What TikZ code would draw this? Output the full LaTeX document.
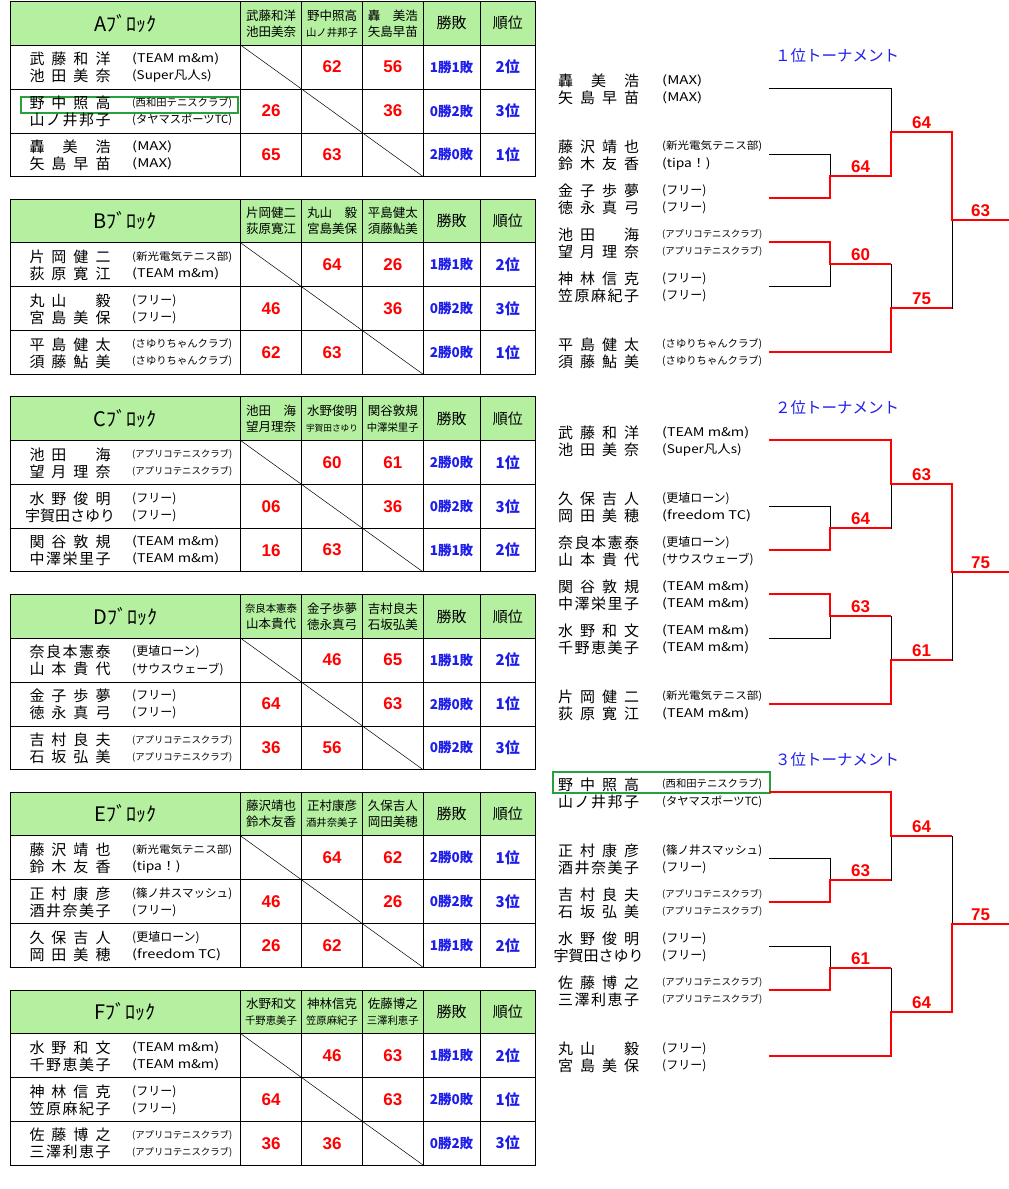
\documentclass[tikz,border=0pt]{standalone}
\usepackage{fontspec}
\usepackage{graphicx}
\setmainfont{Noto Sans CJK JP}
\newfontfamily\arl{Liberation Sans}

\definecolor{hdgreen}{RGB}{180,240,160}
\definecolor{scred}{RGB}{255,0,0}
\definecolor{blu}{RGB}{30,30,235}
\definecolor{hlgreen}{RGB}{40,160,60}

\makeatletter
\def\spr@loop#1#2\@nil{#1\ifx\relax#2\relax\else\hfill\spr@loop#2\@nil\fi}
\newcommand\nm[1]{\setbox0\hbox{#1}\ifdim\wd0>81pt\makebox[81pt][c]{#1}\else\makebox[81pt][s]{\spr@loop#1\@nil}\fi}
\makeatother
\newcommand\kuu{\hphantom{口}}
\newcommand\aff[2][1]{\setbox0\hbox{\scalebox{#1}[1]{#2}}\ifdim\wd0>100pt\resizebox{100pt}{!}{\scalebox{#1}[1]{#2}}\else\box0\fi}
\newcommand\hn[1]{\setbox0\hbox{#1}\ifdim\wd0>52pt\resizebox{52pt}{!}{#1}\else#1\fi}

\tikzset{
  rule/.style={line width=0.9pt, black},
  diag/.style={line width=0.5pt, black},
  hdfill/.style={fill=hdgreen},
  blk/.style={font=\fontsize{20}{20}\selectfont, inner sep=0pt},
  hdnm/.style={font=\fontsize{12.5}{16}\selectfont, align=center, inner sep=0pt},
  hdlb/.style={font=\fontsize{15}{15}\selectfont, inner sep=0pt},
  pname/.style={anchor=west, font=\fontsize{15}{15}\selectfont, inner sep=0pt},
  paff/.style={anchor=west, font=\fontsize{12}{12}\selectfont, inner sep=0pt},
  score/.style={font={\arl\bfseries\fontsize{17}{17}\selectfont}, text=scred, inner sep=0pt},
  wl/.style={font={\bfseries\fontsize{13.5}{13.5}\selectfont}, text=blu, inner sep=0pt},
  rk/.style={font={\bfseries\fontsize{15}{15}\selectfont}, text=blu, inner sep=0pt},
  ttl/.style={font=\fontsize{15.5}{15.5}\selectfont, text=blu, inner sep=0pt},
  hl/.style={draw=hlgreen, line width=2.2pt},
  lose/.style={line width=0.9pt, black},
  win/.style={line width=2.4pt, scred, line join=miter},
}

\begin{document}
\begin{tikzpicture}[x=1pt,y=-1pt]
    \fill[white] (0,0) rectangle (1009,1189);
    \useasboundingbox (0,0) rectangle (1009,1189);

    % A block
    \begin{scope}[shift={(0,1.5)}]
        \fill[hdfill] (10,0) rectangle (535.5,43.5);
        \draw[rule] (10,0) rectangle (535.5,175);
        \draw[rule] (10,43.5) -- (535.5,43.5); \draw[rule] (10,87.5) -- (535.5,87.5); \draw[rule] (10,131.5) -- (535.5,131.5);
        \draw[rule] (240.5,0) -- (240.5,175); \draw[rule] (301.5,0) -- (301.5,175); \draw[rule] (362.5,0) -- (362.5,175);
        \draw[rule] (423,0) -- (423,175); \draw[rule] (480,0) -- (480,175);
        \draw[diag] (240.5,43.5) -- (423,175);

        \node[blk] (Ablk) at (125.25,21.75) {Aﾌﾞﾛｯｸ};
        \node[hdnm] (Ah1) at (271,21.75) {\hn{武藤和洋}\\\hn{池田美奈}};
        \node[hdnm] (Ah2) at (332,21.75) {\hn{野中照高}\\\hn{山ノ井邦子}};
        \node[hdnm] (Ah3) at (392.75,21.75) {\hn{轟\kuu 美浩}\\\hn{矢島早苗}};
        \node[hdlb] (Awl) at (451.5,21.75) {勝敗};
        \node[hdlb] (Ark) at (507.75,21.75) {順位};

        \node[pname] (A1n) at (29.3,57.5) {\nm{武藤和洋}}; \node[paff] (A1f) at (132,57.5) {\aff[1.2]{(TEAM m\&m)}};
        \node[pname] (A1m) at (29.3,74.5) {\nm{池田美奈}}; \node[paff] (A1g) at (132,74.5) {\aff[1.12]{(Super凡人s)}};
        \node[score] (A1b) at (332,65.5) {62}; \node[score] (A1c) at (392.75,65.5) {56};
        \node[wl] (A1w) at (451.5,65.5) {1勝1敗}; \node[rk] (A1r) at (507.75,65.5) {2位};

        \draw[hl] (21.3,95.2) rectangle (237.6,111.8);
        \node[pname] (A2n) at (29.3,101.5) {\nm{野中照高}}; \node[paff] (A2f) at (132,101.5) {\aff{(西和田テニスクラブ)}};
        \node[pname] (A2m) at (29.3,118.5) {\nm{山ノ井邦子}}; \node[paff] (A2g) at (132,118.5) {\aff{(タヤマスポーツTC)}};
        \node[score] (A2a) at (271,109.5) {26}; \node[score] (A2c) at (392.75,109.5) {36};
        \node[wl] (A2w) at (451.5,109.5) {0勝2敗}; \node[rk] (A2r) at (507.75,109.5) {3位};

        \node[pname] (A3n) at (29.3,145.3) {\nm{轟美浩}}; \node[paff] (A3f) at (132,145.3) {\aff[1.25]{(MAX)}};
        \node[pname] (A3m) at (29.3,162.3) {\nm{矢島早苗}}; \node[paff] (A3g) at (132,162.3) {\aff[1.25]{(MAX)}};
        \node[score] (A3a) at (271,153.25) {65}; \node[score] (A3b) at (332,153.25) {63};
        \node[wl] (A3w) at (451.5,153.25) {2勝0敗}; \node[rk] (A3r) at (507.75,153.25) {1位};
    \end{scope}

    % B block
    \begin{scope}[shift={(0,199.2)}]
        \fill[hdfill] (10,0) rectangle (535.5,43.5);
        \draw[rule] (10,0) rectangle (535.5,175);
        \draw[rule] (10,43.5) -- (535.5,43.5); \draw[rule] (10,87.5) -- (535.5,87.5); \draw[rule] (10,131.5) -- (535.5,131.5);
        \draw[rule] (240.5,0) -- (240.5,175); \draw[rule] (301.5,0) -- (301.5,175); \draw[rule] (362.5,0) -- (362.5,175);
        \draw[rule] (423,0) -- (423,175); \draw[rule] (480,0) -- (480,175);
        \draw[diag] (240.5,43.5) -- (423,175);

        \node[blk] (Bblk) at (125.25,21.75) {Bﾌﾞﾛｯｸ};
        \node[hdnm] (Bh1) at (271,21.75) {\hn{片岡健二}\\\hn{荻原寛江}};
        \node[hdnm] (Bh2) at (332,21.75) {\hn{丸山\kuu 毅}\\\hn{宮島美保}};
        \node[hdnm] (Bh3) at (392.75,21.75) {\hn{平島健太}\\\hn{須藤鮎美}};
        \node[hdlb] (Bwl) at (451.5,21.75) {勝敗};
        \node[hdlb] (Brk) at (507.75,21.75) {順位};

        \node[pname] (B1n) at (29.3,57.5) {\nm{片岡健二}}; \node[paff] (B1f) at (132,57.5) {\aff[1.1]{(新光電気テニス部)}};
        \node[pname] (B1m) at (29.3,74.5) {\nm{荻原寛江}}; \node[paff] (B1g) at (132,74.5) {\aff[1.2]{(TEAM m\&m)}};
        \node[score] (B1b) at (332,65.5) {64}; \node[score] (B1c) at (392.75,65.5) {26};
        \node[wl] (B1w) at (451.5,65.5) {1勝1敗}; \node[rk] (B1r) at (507.75,65.5) {2位};

        \node[pname] (B2n) at (29.3,101.5) {\nm{丸山\kuu 毅}}; \node[paff] (B2f) at (132,101.5) {\aff{(フリー)}};
        \node[pname] (B2m) at (29.3,118.5) {\nm{宮島美保}}; \node[paff] (B2g) at (132,118.5) {\aff{(フリー)}};
        \node[score] (B2a) at (271,109.5) {46}; \node[score] (B2c) at (392.75,109.5) {36};
        \node[wl] (B2w) at (451.5,109.5) {0勝2敗}; \node[rk] (B2r) at (507.75,109.5) {3位};

        \node[pname] (B3n) at (29.3,145.3) {\nm{平島健太}}; \node[paff] (B3f) at (132,145.3) {\aff{(さゆりちゃんクラブ)}};
        \node[pname] (B3m) at (29.3,162.3) {\nm{須藤鮎美}}; \node[paff] (B3g) at (132,162.3) {\aff{(さゆりちゃんクラブ)}};
        \node[score] (B3a) at (271,153.25) {62}; \node[score] (B3b) at (332,153.25) {63};
        \node[wl] (B3w) at (451.5,153.25) {2勝0敗}; \node[rk] (B3r) at (507.75,153.25) {1位};
    \end{scope}

    % C block
    \begin{scope}[shift={(0,396.9)}]
        \fill[hdfill] (10,0) rectangle (535.5,43.5);
        \draw[rule] (10,0) rectangle (535.5,175);
        \draw[rule] (10,43.5) -- (535.5,43.5); \draw[rule] (10,87.5) -- (535.5,87.5); \draw[rule] (10,131.5) -- (535.5,131.5);
        \draw[rule] (240.5,0) -- (240.5,175); \draw[rule] (301.5,0) -- (301.5,175); \draw[rule] (362.5,0) -- (362.5,175);
        \draw[rule] (423,0) -- (423,175); \draw[rule] (480,0) -- (480,175);
        \draw[diag] (240.5,43.5) -- (423,175);

        \node[blk] (Cblk) at (125.25,21.75) {Cﾌﾞﾛｯｸ};
        \node[hdnm] (Ch1) at (271,21.75) {\hn{池田\kuu 海}\\\hn{望月理奈}};
        \node[hdnm] (Ch2) at (332,21.75) {\hn{水野俊明}\\\hn{宇賀田さゆり}};
        \node[hdnm] (Ch3) at (392.75,21.75) {\hn{関谷敦規}\\\hn{中澤栄里子}};
        \node[hdlb] (Cwl) at (451.5,21.75) {勝敗};
        \node[hdlb] (Crk) at (507.75,21.75) {順位};

        \node[pname] (C1n) at (29.3,57.5) {\nm{池田\kuu 海}}; \node[paff] (C1f) at (132,57.5) {\aff{(アプリコテニスクラブ)}};
        \node[pname] (C1m) at (29.3,74.5) {\nm{望月理奈}}; \node[paff] (C1g) at (132,74.5) {\aff{(アプリコテニスクラブ)}};
        \node[score] (C1b) at (332,65.5) {60}; \node[score] (C1c) at (392.75,65.5) {61};
        \node[wl] (C1w) at (451.5,65.5) {2勝0敗}; \node[rk] (C1r) at (507.75,65.5) {1位};

        \node[pname] (C2n) at (29.3,101.5) {\nm{水野俊明}}; \node[paff] (C2f) at (132,101.5) {\aff{(フリー)}};
        \node[pname] (C2m) at (29.3,118.5) {\nm{宇賀田さゆり}}; \node[paff] (C2g) at (132,118.5) {\aff{(フリー)}};
        \node[score] (C2a) at (271,109.5) {06}; \node[score] (C2c) at (392.75,109.5) {36};
        \node[wl] (C2w) at (451.5,109.5) {0勝2敗}; \node[rk] (C2r) at (507.75,109.5) {3位};

        \node[pname] (C3n) at (29.3,145.3) {\nm{関谷敦規}}; \node[paff] (C3f) at (132,145.3) {\aff[1.2]{(TEAM m\&m)}};
        \node[pname] (C3m) at (29.3,162.3) {\nm{中澤栄里子}}; \node[paff] (C3g) at (132,162.3) {\aff[1.2]{(TEAM m\&m)}};
        \node[score] (C3a) at (271,153.25) {16}; \node[score] (C3b) at (332,153.25) {63};
        \node[wl] (C3w) at (451.5,153.25) {1勝1敗}; \node[rk] (C3r) at (507.75,153.25) {2位};
    \end{scope}

    % D block
    \begin{scope}[shift={(0,594.6)}]
        \fill[hdfill] (10,0) rectangle (535.5,43.5);
        \draw[rule] (10,0) rectangle (535.5,175);
        \draw[rule] (10,43.5) -- (535.5,43.5); \draw[rule] (10,87.5) -- (535.5,87.5); \draw[rule] (10,131.5) -- (535.5,131.5);
        \draw[rule] (240.5,0) -- (240.5,175); \draw[rule] (301.5,0) -- (301.5,175); \draw[rule] (362.5,0) -- (362.5,175);
        \draw[rule] (423,0) -- (423,175); \draw[rule] (480,0) -- (480,175);
        \draw[diag] (240.5,43.5) -- (423,175);

        \node[blk] (Dblk) at (125.25,21.75) {Dﾌﾞﾛｯｸ};
        \node[hdnm] (Dh1) at (271,21.75) {\hn{奈良本憲泰}\\\hn{山本貴代}};
        \node[hdnm] (Dh2) at (332,21.75) {\hn{金子歩夢}\\\hn{徳永真弓}};
        \node[hdnm] (Dh3) at (392.75,21.75) {\hn{吉村良夫}\\\hn{石坂弘美}};
        \node[hdlb] (Dwl) at (451.5,21.75) {勝敗};
        \node[hdlb] (Drk) at (507.75,21.75) {順位};

        \node[pname] (D1n) at (29.3,57.5) {\nm{奈良本憲泰}}; \node[paff] (D1f) at (132,57.5) {\aff{(更埴ローン)}};
        \node[pname] (D1m) at (29.3,74.5) {\nm{山本貴代}}; \node[paff] (D1g) at (132,74.5) {\aff{(サウスウェーブ)}};
        \node[score] (D1b) at (332,65.5) {46}; \node[score] (D1c) at (392.75,65.5) {65};
        \node[wl] (D1w) at (451.5,65.5) {1勝1敗}; \node[rk] (D1r) at (507.75,65.5) {2位};

        \node[pname] (D2n) at (29.3,101.5) {\nm{金子歩夢}}; \node[paff] (D2f) at (132,101.5) {\aff{(フリー)}};
        \node[pname] (D2m) at (29.3,118.5) {\nm{徳永真弓}}; \node[paff] (D2g) at (132,118.5) {\aff{(フリー)}};
        \node[score] (D2a) at (271,109.5) {64}; \node[score] (D2c) at (392.75,109.5) {63};
        \node[wl] (D2w) at (451.5,109.5) {2勝0敗}; \node[rk] (D2r) at (507.75,109.5) {1位};

        \node[pname] (D3n) at (29.3,145.3) {\nm{吉村良夫}}; \node[paff] (D3f) at (132,145.3) {\aff{(アプリコテニスクラブ)}};
        \node[pname] (D3m) at (29.3,162.3) {\nm{石坂弘美}}; \node[paff] (D3g) at (132,162.3) {\aff{(アプリコテニスクラブ)}};
        \node[score] (D3a) at (271,153.25) {36}; \node[score] (D3b) at (332,153.25) {56};
        \node[wl] (D3w) at (451.5,153.25) {0勝2敗}; \node[rk] (D3r) at (507.75,153.25) {3位};
    \end{scope}

    % E block
    \begin{scope}[shift={(0,792.3)}]
        \fill[hdfill] (10,0) rectangle (535.5,43.5);
        \draw[rule] (10,0) rectangle (535.5,175);
        \draw[rule] (10,43.5) -- (535.5,43.5); \draw[rule] (10,87.5) -- (535.5,87.5); \draw[rule] (10,131.5) -- (535.5,131.5);
        \draw[rule] (240.5,0) -- (240.5,175); \draw[rule] (301.5,0) -- (301.5,175); \draw[rule] (362.5,0) -- (362.5,175);
        \draw[rule] (423,0) -- (423,175); \draw[rule] (480,0) -- (480,175);
        \draw[diag] (240.5,43.5) -- (423,175);

        \node[blk] (Eblk) at (125.25,21.75) {Eﾌﾞﾛｯｸ};
        \node[hdnm] (Eh1) at (271,21.75) {\hn{藤沢靖也}\\\hn{鈴木友香}};
        \node[hdnm] (Eh2) at (332,21.75) {\hn{正村康彦}\\\hn{酒井奈美子}};
        \node[hdnm] (Eh3) at (392.75,21.75) {\hn{久保吉人}\\\hn{岡田美穂}};
        \node[hdlb] (Ewl) at (451.5,21.75) {勝敗};
        \node[hdlb] (Erk) at (507.75,21.75) {順位};

        \node[pname] (E1n) at (29.3,57.5) {\nm{藤沢靖也}}; \node[paff] (E1f) at (132,57.5) {\aff[1.1]{(新光電気テニス部)}};
        \node[pname] (E1m) at (29.3,74.5) {\nm{鈴木友香}}; \node[paff] (E1g) at (132,74.5) {\aff[1.15]{(tipa！)}};
        \node[score] (E1b) at (332,65.5) {64}; \node[score] (E1c) at (392.75,65.5) {62};
        \node[wl] (E1w) at (451.5,65.5) {2勝0敗}; \node[rk] (E1r) at (507.75,65.5) {1位};

        \node[pname] (E2n) at (29.3,101.5) {\nm{正村康彦}}; \node[paff] (E2f) at (132,101.5) {\aff{(篠ノ井スマッシュ)}};
        \node[pname] (E2m) at (29.3,118.5) {\nm{酒井奈美子}}; \node[paff] (E2g) at (132,118.5) {\aff{(フリー)}};
        \node[score] (E2a) at (271,109.5) {46}; \node[score] (E2c) at (392.75,109.5) {26};
        \node[wl] (E2w) at (451.5,109.5) {0勝2敗}; \node[rk] (E2r) at (507.75,109.5) {3位};

        \node[pname] (E3n) at (29.3,145.3) {\nm{久保吉人}}; \node[paff] (E3f) at (132,145.3) {\aff{(更埴ローン)}};
        \node[pname] (E3m) at (29.3,162.3) {\nm{岡田美穂}}; \node[paff] (E3g) at (132,162.3) {\aff[1.22]{(freedom TC)}};
        \node[score] (E3a) at (271,153.25) {26}; \node[score] (E3b) at (332,153.25) {62};
        \node[wl] (E3w) at (451.5,153.25) {1勝1敗}; \node[rk] (E3r) at (507.75,153.25) {2位};
    \end{scope}

    % F block
    \begin{scope}[shift={(0,990)}]
        \fill[hdfill] (10,0) rectangle (535.5,43.5);
        \draw[rule] (10,0) rectangle (535.5,175);
        \draw[rule] (10,43.5) -- (535.5,43.5); \draw[rule] (10,87.5) -- (535.5,87.5); \draw[rule] (10,131.5) -- (535.5,131.5);
        \draw[rule] (240.5,0) -- (240.5,175); \draw[rule] (301.5,0) -- (301.5,175); \draw[rule] (362.5,0) -- (362.5,175);
        \draw[rule] (423,0) -- (423,175); \draw[rule] (480,0) -- (480,175);
        \draw[diag] (240.5,43.5) -- (423,175);

        \node[blk] (Fblk) at (125.25,21.75) {Fﾌﾞﾛｯｸ};
        \node[hdnm] (Fh1) at (271,21.75) {\hn{水野和文}\\\hn{千野恵美子}};
        \node[hdnm] (Fh2) at (332,21.75) {\hn{神林信克}\\\hn{笠原麻紀子}};
        \node[hdnm] (Fh3) at (392.75,21.75) {\hn{佐藤博之}\\\hn{三澤利恵子}};
        \node[hdlb] (Fwl) at (451.5,21.75) {勝敗};
        \node[hdlb] (Frk) at (507.75,21.75) {順位};

        \node[pname] (F1n) at (29.3,57.5) {\nm{水野和文}}; \node[paff] (F1f) at (132,57.5) {\aff[1.2]{(TEAM m\&m)}};
        \node[pname] (F1m) at (29.3,74.5) {\nm{千野恵美子}}; \node[paff] (F1g) at (132,74.5) {\aff[1.2]{(TEAM m\&m)}};
        \node[score] (F1b) at (332,65.5) {46}; \node[score] (F1c) at (392.75,65.5) {63};
        \node[wl] (F1w) at (451.5,65.5) {1勝1敗}; \node[rk] (F1r) at (507.75,65.5) {2位};

        \node[pname] (F2n) at (29.3,101.5) {\nm{神林信克}}; \node[paff] (F2f) at (132,101.5) {\aff{(フリー)}};
        \node[pname] (F2m) at (29.3,118.5) {\nm{笠原麻紀子}}; \node[paff] (F2g) at (132,118.5) {\aff{(フリー)}};
        \node[score] (F2a) at (271,109.5) {64}; \node[score] (F2c) at (392.75,109.5) {63};
        \node[wl] (F2w) at (451.5,109.5) {2勝0敗}; \node[rk] (F2r) at (507.75,109.5) {1位};

        \node[pname] (F3n) at (29.3,145.3) {\nm{佐藤博之}}; \node[paff] (F3f) at (132,145.3) {\aff{(アプリコテニスクラブ)}};
        \node[pname] (F3m) at (29.3,162.3) {\nm{三澤利恵子}}; \node[paff] (F3g) at (132,162.3) {\aff{(アプリコテニスクラブ)}};
        \node[score] (F3a) at (271,153.25) {36}; \node[score] (F3b) at (332,153.25) {36};
        \node[wl] (F3w) at (451.5,153.25) {0勝2敗}; \node[rk] (F3r) at (507.75,153.25) {3位};
    \end{scope}

    % 1st place tournament
    \begin{scope}[shift={(0,0)}]
        \node[ttl] (pttl) at (837,55.3) {１位トーナメント};

        \node[pname] (p1n) at (558,80.5) {\nm{轟美浩}}; \node[paff] (p1f) at (662,80.5) {\aff[1.25]{(MAX)}};
        \node[pname] (p1m) at (558,97.5) {\nm{矢島早苗}}; \node[paff] (p1g) at (662,97.5) {\aff[1.25]{(MAX)}};
        \node[pname] (p2n) at (558,146.5) {\nm{藤沢靖也}}; \node[paff] (p2f) at (662,146.5) {\aff[1.1]{(新光電気テニス部)}};
        \node[pname] (p2m) at (558,163.5) {\nm{鈴木友香}}; \node[paff] (p2g) at (662,163.5) {\aff[1.15]{(tipa！)}};
        \node[pname] (p3n) at (558,190.5) {\nm{金子歩夢}}; \node[paff] (p3f) at (662,190.5) {\aff{(フリー)}};
        \node[pname] (p3m) at (558,207.5) {\nm{徳永真弓}}; \node[paff] (p3g) at (662,207.5) {\aff{(フリー)}};
        \node[pname] (p4n) at (558,234.5) {\nm{池田\kuu 海}}; \node[paff] (p4f) at (662,234.5) {\aff{(アプリコテニスクラブ)}};
        \node[pname] (p4m) at (558,251.5) {\nm{望月理奈}}; \node[paff] (p4g) at (662,251.5) {\aff{(アプリコテニスクラブ)}};
        \node[pname] (p5n) at (558,278.5) {\nm{神林信克}}; \node[paff] (p5f) at (662,278.5) {\aff{(フリー)}};
        \node[pname] (p5m) at (558,295.5) {\nm{笠原麻紀子}}; \node[paff] (p5g) at (662,295.5) {\aff{(フリー)}};
        \node[pname] (p6n) at (558,344.5) {\nm{平島健太}}; \node[paff] (p6f) at (662,344.5) {\aff{(さゆりちゃんクラブ)}};
        \node[pname] (p6m) at (558,361.5) {\nm{須藤鮎美}}; \node[paff] (p6g) at (662,361.5) {\aff{(さゆりちゃんクラブ)}};

        \coordinate (pa1) at (769,88); \coordinate (pa2) at (769,154); \coordinate (pa3) at (769,198);
        \coordinate (pa4) at (769,242); \coordinate (pa5) at (769,286); \coordinate (pa6) at (769,352);
        \coordinate (pj1) at (830,176); \coordinate (pj2) at (830,264);
        \coordinate (ps1) at (891,132); \coordinate (ps2) at (891,308);
        \coordinate (pf) at (952,220); \coordinate (pe) at (1009,220);

        \draw[lose] (pa1) -| (ps1); \draw[lose] (pa2) -| (pj1); \draw[lose] (pa3) -| (pj1);
        \draw[lose] (pa4) -| (pj2); \draw[lose] (pa5) -| (pj2); \draw[lose] (pa6) -| (ps2);
        \draw[lose] (pj1) -| (ps1); \draw[lose] (pj2) -| (ps2);
        \draw[lose] (ps1) -| (pf); \draw[lose] (ps2) -| (pf); \draw[lose] (pf) -- (pe);

        \draw[win] (pa3) -| (pj1) -| (ps1) -| (pf) -- (pe);
        \draw[win] (pa4) -| (pj2) -- (pj2 -| ps2);
        \draw[win] (pa6) -| (ps2) -- (ps2 -| pf);

        \node[score] (pm1) at (860.5,166.5) {64}; \node[score] (pm2) at (860.5,254.5) {60};
        \node[score] (pm3) at (921.5,122.5) {64}; \node[score] (pm4) at (921.5,298.5) {75};
        \node[score] (pm5) at (980.5,210.5) {63};
    \end{scope}

    % 2nd place tournament
    \begin{scope}[shift={(0,352)}]
        \node[ttl] (qttl) at (837,55.3) {２位トーナメント};

        \node[pname] (q1n) at (558,80.5) {\nm{武藤和洋}}; \node[paff] (q1f) at (662,80.5) {\aff[1.2]{(TEAM m\&m)}};
        \node[pname] (q1m) at (558,97.5) {\nm{池田美奈}}; \node[paff] (q1g) at (662,97.5) {\aff[1.12]{(Super凡人s)}};
        \node[pname] (q2n) at (558,146.5) {\nm{久保吉人}}; \node[paff] (q2f) at (662,146.5) {\aff{(更埴ローン)}};
        \node[pname] (q2m) at (558,163.5) {\nm{岡田美穂}}; \node[paff] (q2g) at (662,163.5) {\aff[1.22]{(freedom TC)}};
        \node[pname] (q3n) at (558,190.5) {\nm{奈良本憲泰}}; \node[paff] (q3f) at (662,190.5) {\aff{(更埴ローン)}};
        \node[pname] (q3m) at (558,207.5) {\nm{山本貴代}}; \node[paff] (q3g) at (662,207.5) {\aff{(サウスウェーブ)}};
        \node[pname] (q4n) at (558,234.5) {\nm{関谷敦規}}; \node[paff] (q4f) at (662,234.5) {\aff[1.2]{(TEAM m\&m)}};
        \node[pname] (q4m) at (558,251.5) {\nm{中澤栄里子}}; \node[paff] (q4g) at (662,251.5) {\aff[1.2]{(TEAM m\&m)}};
        \node[pname] (q5n) at (558,278.5) {\nm{水野和文}}; \node[paff] (q5f) at (662,278.5) {\aff[1.2]{(TEAM m\&m)}};
        \node[pname] (q5m) at (558,295.5) {\nm{千野恵美子}}; \node[paff] (q5g) at (662,295.5) {\aff[1.2]{(TEAM m\&m)}};
        \node[pname] (q6n) at (558,344.5) {\nm{片岡健二}}; \node[paff] (q6f) at (662,344.5) {\aff[1.1]{(新光電気テニス部)}};
        \node[pname] (q6m) at (558,361.5) {\nm{荻原寛江}}; \node[paff] (q6g) at (662,361.5) {\aff[1.2]{(TEAM m\&m)}};

        \coordinate (qa1) at (769,88); \coordinate (qa2) at (769,154); \coordinate (qa3) at (769,198);
        \coordinate (qa4) at (769,242); \coordinate (qa5) at (769,286); \coordinate (qa6) at (769,352);
        \coordinate (qj1) at (830,176); \coordinate (qj2) at (830,264);
        \coordinate (qs1) at (891,132); \coordinate (qs2) at (891,308);
        \coordinate (qf) at (952,220); \coordinate (qe) at (1009,220);

        \draw[lose] (qa1) -| (qs1); \draw[lose] (qa2) -| (qj1); \draw[lose] (qa3) -| (qj1);
        \draw[lose] (qa4) -| (qj2); \draw[lose] (qa5) -| (qj2); \draw[lose] (qa6) -| (qs2);
        \draw[lose] (qj1) -| (qs1); \draw[lose] (qj2) -| (qs2);
        \draw[lose] (qs1) -| (qf); \draw[lose] (qs2) -| (qf); \draw[lose] (qf) -- (qe);

        \draw[win] (qa1) -| (qs1) -| (qf) -- (qe);
        \draw[win] (qa3) -| (qj1) -- (qj1 -| qs1);
        \draw[win] (qa4) -| (qj2) -- (qj2 -| qs2);
        \draw[win] (qa6) -| (qs2) -- (qs2 -| qf);

        \node[score] (qm1) at (860.5,166.5) {64}; \node[score] (qm2) at (860.5,254.5) {63};
        \node[score] (qm3) at (921.5,122.5) {63}; \node[score] (qm4) at (921.5,298.5) {61};
        \node[score] (qm5) at (980.5,210.5) {75};
    \end{scope}

    % 3rd place tournament
    \begin{scope}[shift={(0,704)}]
        \node[ttl] (rttl) at (837,55.3) {３位トーナメント};

        \draw[hl] (553.3,68.3) rectangle (770,89.3);
        \node[pname] (r1n) at (558,80.5) {\nm{野中照高}}; \node[paff] (r1f) at (662,80.5) {\aff{(西和田テニスクラブ)}};
        \node[pname] (r1m) at (558,97.5) {\nm{山ノ井邦子}}; \node[paff] (r1g) at (662,97.5) {\aff{(タヤマスポーツTC)}};
        \node[pname] (r2n) at (558,146.5) {\nm{正村康彦}}; \node[paff] (r2f) at (662,146.5) {\aff{(篠ノ井スマッシュ)}};
        \node[pname] (r2m) at (558,163.5) {\nm{酒井奈美子}}; \node[paff] (r2g) at (662,163.5) {\aff{(フリー)}};
        \node[pname] (r3n) at (558,190.5) {\nm{吉村良夫}}; \node[paff] (r3f) at (662,190.5) {\aff{(アプリコテニスクラブ)}};
        \node[pname] (r3m) at (558,207.5) {\nm{石坂弘美}}; \node[paff] (r3g) at (662,207.5) {\aff{(アプリコテニスクラブ)}};
        \node[pname] (r4n) at (558,234.5) {\nm{水野俊明}}; \node[paff] (r4f) at (662,234.5) {\aff{(フリー)}};
        \node[pname] (r4m) at (558,251.5) {\nm{宇賀田さゆり}}; \node[paff] (r4g) at (662,251.5) {\aff{(フリー)}};
        \node[pname] (r5n) at (558,278.5) {\nm{佐藤博之}}; \node[paff] (r5f) at (662,278.5) {\aff{(アプリコテニスクラブ)}};
        \node[pname] (r5m) at (558,295.5) {\nm{三澤利恵子}}; \node[paff] (r5g) at (662,295.5) {\aff{(アプリコテニスクラブ)}};
        \node[pname] (r6n) at (558,344.5) {\nm{丸山\kuu 毅}}; \node[paff] (r6f) at (662,344.5) {\aff{(フリー)}};
        \node[pname] (r6m) at (558,361.5) {\nm{宮島美保}}; \node[paff] (r6g) at (662,361.5) {\aff{(フリー)}};

        \coordinate (ra1) at (769,88); \coordinate (ra2) at (769,154); \coordinate (ra3) at (769,198);
        \coordinate (ra4) at (769,242); \coordinate (ra5) at (769,286); \coordinate (ra6) at (769,352);
        \coordinate (rj1) at (830,176); \coordinate (rj2) at (830,264);
        \coordinate (rs1) at (891,132); \coordinate (rs2) at (891,308);
        \coordinate (rf) at (952,220); \coordinate (re) at (1009,220);

        \draw[lose] (ra1) -| (rs1); \draw[lose] (ra2) -| (rj1); \draw[lose] (ra3) -| (rj1);
        \draw[lose] (ra4) -| (rj2); \draw[lose] (ra5) -| (rj2); \draw[lose] (ra6) -| (rs2);
        \draw[lose] (rj1) -| (rs1); \draw[lose] (rj2) -| (rs2);
        \draw[lose] (rs1) -| (rf); \draw[lose] (rs2) -| (rf); \draw[lose] (rf) -- (re);

        \draw[win] (ra1) -| (rs1) -- (rs1 -| rf);
        \draw[win] (ra3) -| (rj1) -- (rj1 -| rs1);
        \draw[win] (ra5) -| (rj2) -- (rj2 -| rs2);
        \draw[win] (ra6) -| (rs2) -| (rf) -- (re);

        \node[score] (rm1) at (860.5,166.5) {63}; \node[score] (rm2) at (860.5,254.5) {61};
        \node[score] (rm3) at (921.5,122.5) {64}; \node[score] (rm4) at (921.5,298.5) {64};
        \node[score] (rm5) at (980.5,210.5) {75};
    \end{scope}
\end{tikzpicture}
\end{document}
